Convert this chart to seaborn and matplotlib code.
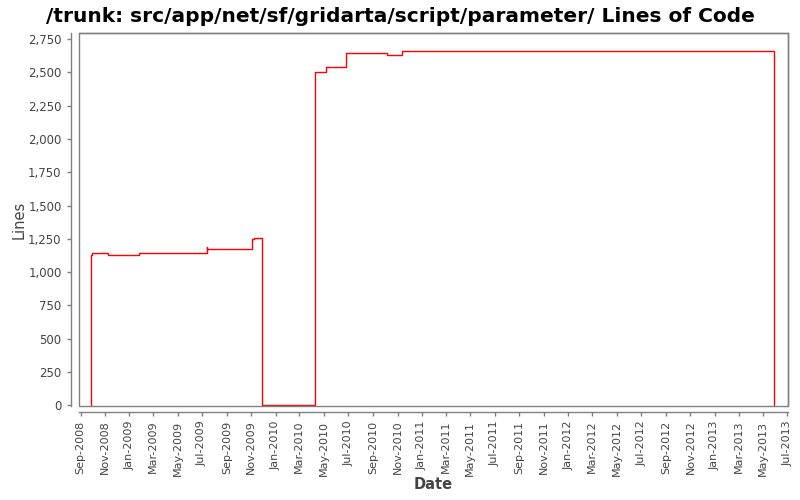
import matplotlib
matplotlib.use("Agg")
import matplotlib.pyplot as plt
import matplotlib.dates as mdates
from matplotlib.ticker import FuncFormatter, MultipleLocator
from matplotlib.patches import Rectangle
import seaborn as sns
import pandas as pd

dates = ["2008-09-27", "2008-09-27", "2008-09-30", "2008-11-08", "2009-01-25",
         "2009-07-13", "2009-07-14", "2009-11-02", "2009-11-07", "2009-11-27",
         "2010-04-09", "2010-05-07", "2010-06-26", "2010-10-06", "2010-11-12",
         "2013-05-29"]
lines = [0, 1127, 1140, 1132, 1140,
         1190, 1172, 1245, 1255, 0,
         2500, 2537, 2642, 2627, 2657,
         0]

df = pd.DataFrame({"Date": pd.to_datetime(dates), "Lines": lines})

sns.set_style("white")
plt.rcParams['font.family'] = ['DejaVu Sans']

fig = plt.figure(figsize=(8, 5), dpi=100)
ax = fig.add_axes([0.09875, 0.188, 0.886, 0.746])

sns.lineplot(data=df, x="Date", y="Lines", ax=ax, color="#ff0000",
             linewidth=1.0, drawstyle="steps-post", estimator=None, sort=False)

ax.set_xlim(pd.Timestamp("2008-08-28"), pd.Timestamp("2013-07-02"))
ax.set_ylim(-5, 2795)

ax.yaxis.set_major_locator(MultipleLocator(250))
ax.yaxis.set_major_formatter(FuncFormatter(lambda v, p: f"{int(v):,}"))
ax.xaxis.set_major_locator(mdates.MonthLocator(bymonth=[1, 3, 5, 7, 9, 11]))
ax.xaxis.set_major_formatter(mdates.DateFormatter("%b-%Y"))
ax.xaxis.set_minor_locator(mdates.MonthLocator())

ax.tick_params(axis="both", labelsize=8.5, colors="#808080", labelcolor="#444444",
               length=3, width=1, direction="out")
ax.tick_params(axis="x", which="minor", length=0)
ax.tick_params(axis="x", which="major", length=3, bottom=True, labelrotation=90,
               labelsize=8)
ax.tick_params(axis="y", left=True)

for s in ["top", "right", "left", "bottom"]:
    ax.spines[s].set_color("#808080")
    ax.spines[s].set_linewidth(1)
ax.spines["left"].set_position(("outward", 6))
ax.spines["bottom"].set_position(("outward", 4))

ax.add_patch(Rectangle((0, 0), 1, 1, transform=ax.transAxes, fill=False,
                       edgecolor="#808080", linewidth=1, clip_on=False, zorder=5))

ax.set_xlabel("Date", fontsize=10.5, color="#444444", fontweight="bold", labelpad=1)
ax.set_ylabel("Lines", fontsize=10.5, color="#444444", labelpad=1)

fig.suptitle("/trunk: src/app/net/sf/gridarta/script/parameter/ Lines of Code",
             fontsize=14.5, fontweight="bold", color="black", y=0.985)

fig.savefig("out.png", dpi=100)
